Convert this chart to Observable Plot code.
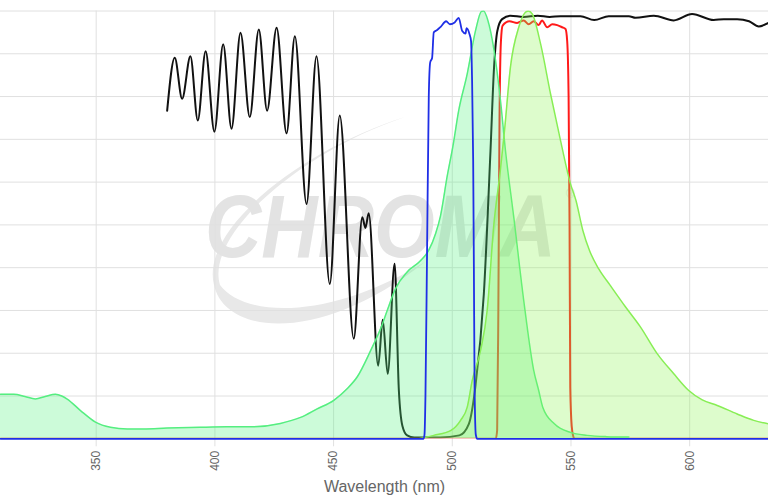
<!DOCTYPE html>
<html>
<head>
<meta charset="utf-8">
<script src="https://cdn.jsdelivr.net/npm/d3@7"></script>
<script src="https://cdn.jsdelivr.net/npm/@observablehq/plot@0.6"></script>
<style>
  html, body { margin: 0; padding: 0; background: #fff; }
  #chart svg { display: block; }
</style>
</head>
<body>
<div id="chart"></div>
<script>
// Tick labels
const xTicks = [350, 400, 450, 500, 550, 600];
const yGrid = [10, 20, 30, 40, 50, 60, 70, 80, 90, 100];
const xLabel = "Wavelength (nm)";
const logoText = "CHROMA";

// Black: dichroic transmission
const bkW = [379.9,383.1,386.2,389.7,392.8,396.1,399.8,403.5,407.0,410.8,414.7,418.5,422.0,426.0,430.2,433.7,438.6,442.8,448.4,452.6,458.5,462.1,463.4,464.8,468.8,470.7,472.8,475.7,477.5,479.0,481.0,484.0,495.0,503.0,507.0,509.8,513.3,516.1,517.6,519.0,521.0,524.5,530,536,541,545.6,554,559.8,565.9,574.4,577.2,584.9,593.3,601.0,610.1,614.4,620.0,625,629.1,633.2];
const bkV = [76.7,89.1,79.5,89.4,74.4,90.6,71.8,92.2,72.5,94.9,75.2,95.7,76.7,96.1,71.4,94.1,54.9,89.4,36.2,75.6,23.4,51.8,49.3,52.7,17.1,27.8,15.2,40.9,11.3,3.0,0.8,0.3,0.3,0.8,3.5,12.5,33.9,67.4,86.9,95.4,98.1,98.9,98.6,98.9,98.6,98.8,98.8,97.9,98.8,98.8,98.4,98.9,97.8,99.3,97.9,98.1,98.1,97.6,96.4,97.2];

// Blue: excitation filter
const blW = [309.7,487.9,488.3,488.7,489.4,490.1,490.7,491.5,492.2,493.5,495.1,497.4,499,501,502.7,504.2,505.6,506,507.2,507.9,508.3,508.8,509.1,509.4,509.9,510.5,633.2];
const blV = [0,0,1,10,45,80,88,89,95,95.5,96.3,97.6,96.9,97.3,98.4,95.3,94.7,96,94.7,93,85,65,40,12,1,0,0];

// Red: emission filter
const rdW = [309.7,518.3,518.9,519.4,519.9,520.5,521.2,524.1,527.3,530.1,532.2,534.3,536.4,537.8,540,542.1,544.2,546.3,547.7,548.4,549.0,549.4,549.7,550.3,551,551.5,633.2];
const rdV = [0,0,2,30,75,93,96.6,97.6,97.2,97.8,96.9,97.6,96.7,97.8,96.2,96.9,96.7,96.2,95.8,93,80,50,12,3,0.5,0,0];

// Green 1: excitation spectrum
const exW = [309.7,315.3,320,324.4,328.5,332.9,335.5,337.8,343.4,349.7,356,363.1,370,379.9,393.9,405,415,427.6,436.1,443.1,450.1,455.7,460,465.6,470,472.6,476,481,486.6,490,493,495,497.9,500.3,502.7,506.3,509.8,512.3,513.2,515,517.6,520.3,522.4,525.9,530.1,534.3,536.4,538.1,543,549.8,556.8,565,574.4];
const exV = [10.4,10.4,9.9,9.3,9.9,10.4,10.0,9.3,6.6,3.9,2.7,2.3,2.3,2.5,2.7,2.8,2.8,3.6,5.0,7.0,9.0,11.7,14.5,20.6,26,30,35,39,41.6,44,48,52,61.5,68.5,76.7,85.3,95.4,99.9,100,97.8,90.8,79.1,67.4,51.8,32.3,16,11.3,7.4,3.5,1.5,0.8,0.5,0.4];

// Green 2: emission spectrum
const emW = [486,492.2,499.3,503.5,506.3,508.4,511.9,514.7,517.5,520.3,522,524.5,528,530.5,532,533.7,537.2,541.4,545.6,549.8,552.1,555,557.8,561.7,566.6,573,579.3,586.3,593.3,599.6,605.3,611.6,620,627,633.2];
const emV = [0,0.8,1.9,4.3,7.4,13.6,20.6,30,50,63,72,86.9,96.2,99.5,100,99.3,92.3,80.6,69.7,59.6,55.7,48.7,44,39.7,35.8,30.8,26.1,19.9,15.2,11.3,9.1,7.8,5.8,4.3,3.5];

const zip = (w, v) => w.map((x, i) => ({x, y: v[i]}));
const black = zip(bkW, bkV), blue = zip(blW, blV), red = zip(rdW, rdV);
const ex = zip(exW, exV), em = zip(emW, emV);

const curve = "monotone-x";
const chart = Plot.plot({
  width: 768,
  height: 500,
  marginLeft: 0,
  marginRight: 0,
  marginTop: 10.5,
  marginBottom: 61.7,
  x: {domain: [309.7, 633.2], axis: null},
  y: {domain: [0, 100], axis: null},
  style: {fontFamily: "'Liberation Sans', Arial, sans-serif", background: "#fff", overflow: "visible"},
  marks: [
    Plot.gridY(yGrid, {stroke: "#e0e0e0", strokeOpacity: 1}),
    Plot.gridX(xTicks, {stroke: "#e0e0e0", strokeOpacity: 1}),
    Plot.axisX(xTicks, {tickSize: 8, tickPadding: 4, tickRotate: -90, stroke: "#e0e0e0", fill: "#666", fontSize: 12, label: null}),
    Plot.lineY(black, {x: "x", y: "y", stroke: "#111", strokeWidth: 2, curve, clip: true}),
    Plot.lineY(red, {x: "x", y: "y", stroke: "#ff1a1a", strokeWidth: 2, curve, clip: true}),
    Plot.areaY(ex, {x: "x", y: "y", fill: "#55f280", fillOpacity: 0.3, curve, clip: true}),
    Plot.lineY(ex, {x: "x", y: "y", stroke: "#55ee80", strokeWidth: 1.5, curve, clip: true}),
    Plot.areaY(em, {x: "x", y: "y", fill: "#8ef555", fillOpacity: 0.3, curve, clip: true}),
    Plot.lineY(em, {x: "x", y: "y", stroke: "#88ee55", strokeWidth: 1.5, curve, clip: true}),
    Plot.lineY(blue, {x: "x", y: "y", stroke: "#1f2fe6", strokeWidth: 1.8, curve}),
    Plot.text([xLabel], {frameAnchor: "bottom", dy: 48, fontSize: 16, fill: "#666", lineAnchor: "middle"})
  ]
});

// Watermark logo (decorative, behind everything)
const svg = d3.select(chart);
const wm = svg.insert("g", ":first-child").attr("pointer-events", "none");
wm.append("path")
  .attr("d", "M 405 117 C 300 150, 200 230, 214 285 C 225 335, 320 345, 425 262 C 330 320, 245 318, 220 285 C 205 235, 300 152, 405 117 Z")
  .attr("fill", "#e8e8e8");
wm.append("text")
  .attr("transform", "translate(205,257) scale(1,1.13)")
  .attr("text-anchor", "start")
  .attr("font-family", "'Liberation Sans', Arial, sans-serif")
  .attr("font-weight", "bold").attr("font-style", "italic")
  .attr("font-size", 78)
  .attr("fill", "#e3e3e3")
  .text(logoText);
wm.append("text")
  .attr("x", 566).attr("y", 198)
  .attr("text-anchor", "start")
  .attr("font-family", "'Liberation Sans', Arial, sans-serif")
  .attr("font-size", 12).attr("fill", "#e3e3e3")
  .text("®");

document.getElementById("chart").appendChild(chart);
</script>
</body>
</html>
